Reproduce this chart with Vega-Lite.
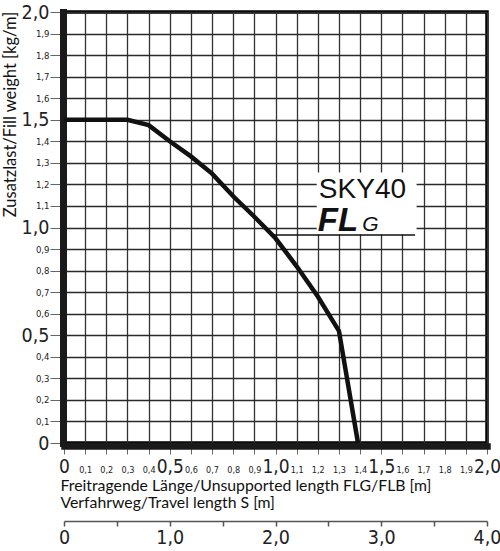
{
  "$schema": "https://vega.github.io/schema/vega-lite/v6.json",
  "width": 423,
  "height": 431,
  "autosize": {"type": "none"},
  "padding": {"left": 64, "top": 12, "right": 13, "bottom": 108},
  "background": "white",
  "config": {"view": {"stroke": "black", "strokeWidth": 3.5}},
  "resolve": {"scale": {"x": "independent"}, "axis": {"x": "independent"}},
  "layer": [
    {
      "encoding": {
        "x": {
          "field": "x", "type": "quantitative",
          "scale": {"domain": [0, 2], "nice": false},
          "axis": {
            "orient": "bottom", "offset": 3,
            "values": [0,0.1,0.2,0.3,0.4,0.5,0.6,0.7,0.8,0.9,1,1.1,1.2,1.3,1.4,1.5,1.6,1.7,1.8,1.9,2],
            "grid": true, "gridColor": "#333", "gridWidth": 1.3,
            "domainColor": "#1a1a1a", "domainWidth": 6.5, "domainCap": "square",
            "tickColor": "#666", "tickSize": 8, "tickWidth": 1,
            "labelExpr": "datum.value == 0 ? '0' : replace(format(datum.value, '.1f'), '.', ',')",
            "labelFontSize": {"condition": {"test": "abs(datum.value*2 - round(datum.value*2)) < 0.01", "value": 19}, "value": 9},
            "labelBaseline": "alphabetic", "labelPadding": 18,
            "labelFont": "DejaVu Sans Condensed, Roboto, sans-serif", "labelColor": "#222",
            "labelOverlap": false, "labelFlush": false, "labelBound": false,
            "title": ["Freitragende Länge/Unsupported length FLG/FLB [m]", "Verfahrweg/Travel length S [m]"],
            "titleFont": "Lato", "titleFontSize": 15.8, "titleFontWeight": "normal", "titleColor": "#111",
            "titleAnchor": "start", "titleAlign": "left", "titleBaseline": "top",
            "titleX": -4, "titleY": 32, "titleLineHeight": 17
          }
        },
        "y": {
          "field": "y", "type": "quantitative",
          "scale": {"domain": [0, 2], "nice": false},
          "axis": {
            "orient": "left", "offset": 1,
            "values": [0,0.1,0.2,0.3,0.4,0.5,0.6,0.7,0.8,0.9,1,1.1,1.2,1.3,1.4,1.5,1.6,1.7,1.8,1.9,2],
            "grid": true, "gridColor": "#2a2a2a", "gridWidth": 1.3,
            "domainColor": "#1a1a1a", "domainWidth": 7, "domainCap": "square",
            "tickColor": "#666", "tickSize": 13, "tickWidth": 1,
            "labelExpr": "datum.value == 0 ? '0' : replace(format(datum.value, '.1f'), '.', ',')",
            "labelFontSize": {"condition": {"test": "abs(datum.value*2 - round(datum.value*2)) < 0.01", "value": 19.5}, "value": 9.5},
            "labelBaseline": "middle", "labelPadding": 1,
            "labelFont": "DejaVu Sans Condensed, Roboto, sans-serif", "labelColor": "#222",
            "labelOverlap": false, "labelFlush": false, "labelBound": false,
            "title": "Zusatzlast/Fill weight [kg/m]",
            "titleFont": "Lato", "titleFontSize": 16.5, "titleFontWeight": "normal", "titleColor": "#111",
            "titleAlign": "center", "titleBaseline": "top", "titleX": -61, "titleY": 102
          }
        }
      },
      "layer": [
        {
          "data": {"values": [
            {"x": 0, "y": 1.5}, {"x": 0.3, "y": 1.5}, {"x": 0.4, "y": 1.475},
            {"x": 0.5, "y": 1.40}, {"x": 0.6, "y": 1.33}, {"x": 0.7, "y": 1.25},
            {"x": 0.8, "y": 1.145}, {"x": 0.9, "y": 1.05}, {"x": 1.0, "y": 0.95},
            {"x": 1.1, "y": 0.82}, {"x": 1.2, "y": 0.68}, {"x": 1.3, "y": 0.52},
            {"x": 1.39, "y": 0}
          ]},
          "mark": {"type": "line", "color": "#111", "strokeWidth": 4.5, "strokeJoin": "miter"}
        },
        {
          "data": {"values": [{"x": 1.195, "x2": 1.667, "y": 0.968, "y2": 1.255}]},
          "mark": {"type": "rect", "color": "white"},
          "encoding": {
            "x2": {"field": "x2"},
            "y2": {"field": "y2"}
          }
        },
        {
          "data": {"values": [{"x": 0.983, "x2": 1.66, "y": 0.965}]},
          "mark": {"type": "rule", "color": "#111", "strokeWidth": 1.5},
          "encoding": {
            "x2": {"field": "x2"}
          }
        },
        {
          "data": {"values": [{"x": 1.205, "y": 1.135, "t": "SKY40"}]},
          "mark": {"type": "text", "align": "left", "baseline": "alphabetic", "font": "Liberation Sans", "fontSize": 28, "color": "#111"},
          "encoding": {"text": {"field": "t"}}
        },
        {
          "data": {"values": [{"x": 1.2, "y": 0.984, "t": "FL"}]},
          "mark": {"type": "text", "align": "left", "baseline": "alphabetic", "font": "Liberation Sans", "fontSize": 33, "fontWeight": "bold", "fontStyle": "italic", "color": "#111"},
          "encoding": {"text": {"field": "t"}}
        },
        {
          "data": {"values": [{"x": 1.41, "y": 0.984, "t": "G"}]},
          "mark": {"type": "text", "align": "left", "baseline": "alphabetic", "font": "Liberation Sans", "fontSize": 21, "fontStyle": "italic", "color": "#111"},
          "encoding": {"text": {"field": "t"}}
        }
      ]
    },
    {
      "data": {"values": [{"s": 0}, {"s": 4}]},
      "mark": {"type": "point", "opacity": 0},
      "encoding": {
        "x": {
          "field": "s", "type": "quantitative",
          "scale": {"domain": [0, 4], "nice": false},
          "axis": {
            "orient": "bottom", "offset": 78,
            "values": [0,0.5,1,1.5,2,2.5,3,3.5,4],
            "grid": false,
            "domainColor": "#555", "domainWidth": 1.5,
            "tickColor": "#555", "tickSize": 5, "tickWidth": 1.5,
            "labelExpr": "datum.value % 1 == 0 ? (datum.value == 0 ? '0' : replace(format(datum.value, '.1f'), '.', ',')) : ''",
            "labelFontSize": 19.5, "labelFont": "DejaVu Sans Condensed, Roboto, sans-serif", "labelColor": "#222",
            "labelBaseline": "alphabetic", "labelPadding": 17,
            "labelOverlap": false, "labelFlush": false, "labelBound": false,
            "title": null
          }
        }
      }
    }
  ]
}
